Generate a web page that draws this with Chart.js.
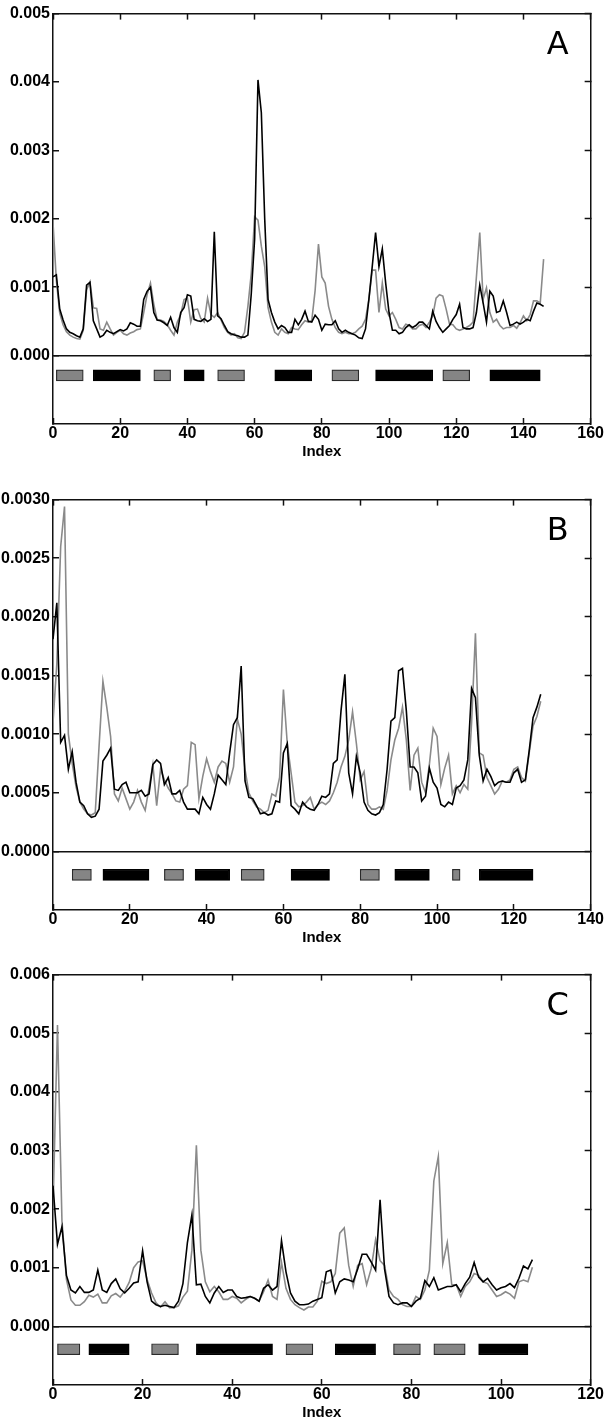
<!DOCTYPE html>
<html>
<head>
<meta charset="utf-8">
<script src="https://cdn.jsdelivr.net/npm/chart.js@4.4.0/dist/chart.umd.min.js"></script>
<style>
    html, body { margin: 0; padding: 0; background: #fff; }
    body { position: relative; width: 610px; height: 1419px; overflow: hidden; }
    canvas { position: absolute; left: 0; }
</style>
</head>
<body>
<canvas id="chartA" width="610" height="479" style="top:-5px"></canvas>
<canvas id="chartB" width="610" height="479" style="top:481px"></canvas>
<canvas id="chartC" width="610" height="479" style="top:956px"></canvas>
<script>
/* Three stacked profiles (A, B, C) with secondary-structure boxes under the zero line */

// Panel A
var blackA = [0.00115,0.00118,0.00068,0.00052,0.00039,0.00034,0.00032,0.00029,0.00027,0.00039,
    0.00103,0.00107,0.00051,0.00039,0.00027,0.00030,0.00037,0.00034,0.00032,0.00035,
    0.00038,0.00036,0.00039,0.00048,0.00046,0.00043,0.00043,0.00082,0.00094,0.00100,
    0.00063,0.00052,0.00051,0.00048,0.00044,0.00056,0.00041,0.00034,0.00063,0.00070,
    0.00089,0.00087,0.00053,0.00051,0.00050,0.00054,0.00050,0.00053,0.00181,0.00058,
    0.00054,0.00044,0.00035,0.00032,0.00030,0.00029,0.00027,0.00027,0.00030,0.00090,
    0.00170,0.00403,0.00355,0.00200,0.00082,0.00063,0.00049,0.00039,0.00044,0.00041,
    0.00034,0.00034,0.00053,0.00045,0.00053,0.00065,0.00050,0.00049,0.00059,0.00053,
    0.00037,0.00046,0.00045,0.00045,0.00051,0.00039,0.00034,0.00037,0.00034,0.00032,
    0.00030,0.00026,0.00025,0.00039,0.00082,0.00130,0.00180,0.00130,0.00156,0.00106,
    0.00063,0.00037,0.00037,0.00032,0.00034,0.00041,0.00045,0.00041,0.00044,0.00049,
    0.00049,0.00044,0.00039,0.00065,0.00050,0.00041,0.00034,0.00039,0.00044,0.00053,
    0.00060,0.00075,0.00041,0.00039,0.00039,0.00041,0.00063,0.00103,0.00077,0.00049,
    0.00094,0.00087,0.00063,0.00065,0.00080,0.00063,0.00044,0.00046,0.00049,0.00046,
    0.00049,0.00053,0.00051,0.00065,0.00077,0.00075,0.00072];
var grayA = [0.00194,0.00110,0.00062,0.00045,0.00035,0.00030,0.00027,0.00025,0.00024,0.00037,
    0.00096,0.00108,0.00070,0.00069,0.00039,0.00037,0.00049,0.00039,0.00030,0.00034,
    0.00037,0.00032,0.00030,0.00033,0.00035,0.00038,0.00039,0.00063,0.00089,0.00106,
    0.00075,0.00052,0.00052,0.00050,0.00045,0.00037,0.00030,0.00049,0.00060,0.00082,
    0.00084,0.00049,0.00067,0.00068,0.00054,0.00049,0.00084,0.00060,0.00056,0.00063,
    0.00052,0.00041,0.00034,0.00030,0.00032,0.00026,0.00025,0.00034,0.00072,0.00120,
    0.00203,0.00198,0.00160,0.00130,0.00070,0.00049,0.00034,0.00030,0.00039,0.00034,
    0.00032,0.00041,0.00039,0.00038,0.00045,0.00051,0.00049,0.00051,0.00095,0.00163,
    0.00115,0.00106,0.00072,0.00053,0.00041,0.00034,0.00032,0.00034,0.00032,0.00032,
    0.00034,0.00039,0.00043,0.00053,0.00082,0.00125,0.00125,0.00063,0.00106,0.00068,
    0.00058,0.00063,0.00053,0.00041,0.00039,0.00046,0.00044,0.00039,0.00039,0.00044,
    0.00046,0.00041,0.00049,0.00058,0.00084,0.00089,0.00087,0.00068,0.00046,0.00045,
    0.00039,0.00037,0.00039,0.00041,0.00044,0.00049,0.00115,0.00180,0.00082,0.00099,
    0.00063,0.00049,0.00053,0.00044,0.00039,0.00041,0.00041,0.00044,0.00040,0.00048,
    0.00058,0.00051,0.00060,0.00080,0.00080,0.00077,0.00141];
var helixA = [[1, 9], [30, 35], [49, 57], [83, 91], [116, 124]];
var strandA = [[12, 26], [39, 45], [66, 77], [96, 113], [130, 145]];

// Panel B
var blackB = [0.00181,0.00212,0.00093,0.00099,0.00070,0.00085,0.00059,0.00042,0.00039,0.00032,
    0.00029,0.00030,0.00036,0.00077,0.00082,0.00088,0.00053,0.00052,0.00057,0.00059,
    0.00050,0.00050,0.00050,0.00052,0.00047,0.00049,0.00074,0.00078,0.00075,0.00057,
    0.00063,0.00049,0.00049,0.00052,0.00042,0.00036,0.00036,0.00036,0.00032,0.00046,
    0.00040,0.00036,0.00049,0.00065,0.00061,0.00057,0.00084,0.00108,0.00114,0.00158,
    0.00060,0.00046,0.00045,0.00039,0.00032,0.00033,0.00031,0.00032,0.00043,0.00042,
    0.00084,0.00092,0.00039,0.00036,0.00032,0.00042,0.00038,0.00036,0.00035,0.00040,
    0.00047,0.00046,0.00049,0.00075,0.00078,0.00120,0.00151,0.00067,0.00049,0.00081,
    0.00067,0.00042,0.00035,0.00032,0.00031,0.00033,0.00040,0.00070,0.00111,0.00114,
    0.00154,0.00156,0.00120,0.00072,0.00072,0.00067,0.00043,0.00047,0.00071,0.00059,
    0.00054,0.00040,0.00038,0.00042,0.00040,0.00054,0.00056,0.00061,0.00078,0.00139,
    0.00131,0.00082,0.00060,0.00070,0.00064,0.00056,0.00059,0.00060,0.00059,0.00059,
    0.00067,0.00070,0.00059,0.00061,0.00086,0.00114,0.00123,0.00134];
var grayB = [0.00110,0.00160,0.00260,0.00294,0.00100,0.00075,0.00055,0.00042,0.00036,0.00032,
    0.00031,0.00033,0.00090,0.00145,0.00123,0.00098,0.00049,0.00043,0.00054,0.00045,
    0.00036,0.00042,0.00052,0.00042,0.00035,0.00054,0.00074,0.00039,0.00070,0.00061,
    0.00054,0.00049,0.00043,0.00042,0.00053,0.00056,0.00093,0.00091,0.00045,0.00064,
    0.00079,0.00068,0.00059,0.00072,0.00077,0.00075,0.00059,0.00072,0.00113,0.00100,
    0.00070,0.00050,0.00043,0.00038,0.00036,0.00033,0.00035,0.00049,0.00047,0.00063,
    0.00138,0.00092,0.00067,0.00042,0.00038,0.00039,0.00042,0.00046,0.00036,0.00040,
    0.00042,0.00040,0.00043,0.00050,0.00059,0.00072,0.00081,0.00095,0.00119,0.00092,
    0.00061,0.00068,0.00040,0.00036,0.00036,0.00038,0.00036,0.00052,0.00078,0.00095,
    0.00105,0.00123,0.00095,0.00052,0.00082,0.00088,0.00059,0.00050,0.00074,0.00105,
    0.00098,0.00057,0.00071,0.00082,0.00049,0.00056,0.00050,0.00057,0.00053,0.00110,
    0.00186,0.00084,0.00082,0.00063,0.00056,0.00049,0.00053,0.00060,0.00059,0.00061,
    0.00070,0.00072,0.00063,0.00060,0.00084,0.00107,0.00115,0.00128];
var helixB = [[5, 10], [29, 34], [49, 55], [80, 85], [104, 106]];
var strandB = [[13, 25], [37, 46], [62, 72], [89, 98], [111, 125]];

// Panel C
var blackC = [0.00240,0.00140,0.00170,0.00087,0.00062,0.00057,0.00068,0.00058,0.00058,0.00062,
    0.00096,0.00062,0.00058,0.00073,0.00081,0.00064,0.00057,0.00065,0.00074,0.00076,
    0.00129,0.00076,0.00043,0.00037,0.00034,0.00036,0.00034,0.00032,0.00043,0.00073,
    0.00143,0.00190,0.00071,0.00072,0.00051,0.00040,0.00057,0.00068,0.00058,0.00062,
    0.00062,0.00051,0.00048,0.00049,0.00051,0.00048,0.00043,0.00065,0.00071,0.00062,
    0.00068,0.00146,0.00093,0.00057,0.00043,0.00037,0.00037,0.00038,0.00043,0.00046,
    0.00049,0.00093,0.00096,0.00057,0.00076,0.00081,0.00079,0.00076,0.00098,0.00123,
    0.00123,0.00110,0.00096,0.00216,0.00098,0.00051,0.00040,0.00037,0.00040,0.00040,
    0.00034,0.00043,0.00048,0.00078,0.00068,0.00083,0.00062,0.00065,0.00068,0.00068,
    0.00071,0.00059,0.00073,0.00084,0.00109,0.00084,0.00076,0.00082,0.00071,0.00062,
    0.00066,0.00068,0.00073,0.00066,0.00082,0.00103,0.00098,0.00114];
var grayC = [0.00200,0.00514,0.00180,0.00080,0.00045,0.00036,0.00036,0.00042,0.00053,0.00050,
    0.00055,0.00040,0.00040,0.00052,0.00056,0.00050,0.00060,0.00075,0.00100,0.00110,
    0.00112,0.00080,0.00057,0.00040,0.00033,0.00042,0.00032,0.00032,0.00035,0.00050,
    0.00060,0.00130,0.00309,0.00130,0.00076,0.00059,0.00068,0.00059,0.00046,0.00046,
    0.00051,0.00048,0.00040,0.00046,0.00051,0.00048,0.00043,0.00059,0.00079,0.00051,
    0.00046,0.00109,0.00065,0.00046,0.00037,0.00032,0.00028,0.00033,0.00033,0.00043,
    0.00077,0.00073,0.00076,0.00090,0.00159,0.00168,0.00104,0.00068,0.00104,0.00107,
    0.00071,0.00098,0.00148,0.00112,0.00104,0.00062,0.00051,0.00046,0.00037,0.00034,
    0.00034,0.00051,0.00046,0.00062,0.00096,0.00248,0.00290,0.00107,0.00143,0.00071,
    0.00071,0.00051,0.00068,0.00076,0.00090,0.00087,0.00076,0.00073,0.00062,0.00051,
    0.00054,0.00059,0.00055,0.00048,0.00076,0.00079,0.00076,0.00101];
var helixC = [[1, 6], [22, 28], [52, 58], [76, 82], [85, 92]];
var strandC = [[8, 17], [32, 49], [63, 72], [95, 106]];

(function () {
    'use strict';

    var INK = '#111';
    var GREY = '#8a8a8a';
    var tickFont = { family: '"Liberation Sans", Arial, sans-serif', size: 16, weight: 'bold' };

    function series(values) {
        return values.map(function (v, i) { return { x: i, y: v }; });
    }
    function boxes(spans, y) {
        return spans.map(function (s) { return { x: s, y: y }; });
    }
    // only label/mark the non-negative part of the value axis
    function keepPositive(scale) {
        scale.ticks = scale.ticks.filter(function (t) { return t.value > -1e-12; });
    }

    var panelLetter = {
        id: 'panelLetter',
        afterDraw: function (chart, args, opts) {
            var a = chart.chartArea, ctx = chart.ctx;
            ctx.save();
            ctx.font = '32px "DejaVu Sans", sans-serif';
            ctx.fillStyle = '#000';
            ctx.textAlign = 'center';
            ctx.textBaseline = 'middle';
            ctx.fillText(opts.text, a.right - 33, a.top + 32);
            ctx.restore();
        }
    };

    function panel(id, p) {
        var frame = { color: INK, width: 1.5 };
        // ticks point into the plot; offset off so the bar datasets don't pad the axes
        var inward = { drawOnChartArea: false, offset: false, tickLength: -6, tickColor: INK, tickWidth: 1.5 };

        return new Chart(document.getElementById(id), {
            type: 'line',
            data: {
                datasets: [
                    { data: series(p.black), borderColor: '#000', borderWidth: 1.6 },
                    { data: series(p.gray), borderColor: GREY, borderWidth: 1.6 },
                    { type: 'bar', indexAxis: 'y', data: boxes(p.helix, p.boxY),
                      backgroundColor: '#858585', borderColor: '#2a2a2a', borderWidth: 1.2,
                      borderSkipped: false, barThickness: 11, grouped: false },
                    { type: 'bar', indexAxis: 'y', data: boxes(p.strand, p.boxY),
                      backgroundColor: '#000', borderColor: '#000', borderWidth: 1.2,
                      borderSkipped: false, barThickness: 11, grouped: false }
                ]
            },
            options: {
                responsive: false,
                animation: false,
                layout: { padding: { top: 10, right: 15, left: 0, bottom: 0 } },
                elements: { point: { radius: 0 }, line: { tension: 0, fill: false } },
                plugins: { legend: { display: false }, tooltip: { enabled: false }, panelLetter: { text: p.letter } },
                scales: {
                    x: {
                        type: 'linear', position: 'bottom', min: 0, max: p.xMax, offset: false,
                        ticks: { stepSize: 20, padding: 6, color: '#000', font: tickFont },
                        grid: inward, border: frame,
                        title: { display: true, text: 'Index', color: '#000', padding: { top: 0, bottom: 13 },
                                 font: { family: tickFont.family, size: 15, weight: 'bold' } },
                        afterFit: function (s) { s.height = 50; }
                    },
                    x2: {
                        type: 'linear', position: 'top', min: 0, max: p.xMax, offset: false,
                        ticks: { stepSize: 20, display: false },
                        grid: inward, border: frame,
                        afterFit: function (s) { s.height = 0; }
                    },
                    y: {
                        type: 'linear', position: 'left', min: p.yMin, max: p.yMax, offset: false,
                        ticks: {
                            stepSize: p.yStep, padding: 9, color: '#000', font: tickFont,
                            callback: function (v) { return v.toFixed(p.digits); }
                        },
                        grid: {
                            drawOnChartArea: true, offset: false, tickLength: -6, tickColor: INK,
                            tickWidth: 1.5, lineWidth: 1.5,
                            color: function (c) {
                                return c.tick && Math.abs(c.tick.value) < 1e-12 ? INK : 'rgba(0,0,0,0)';
                            }
                        },
                        border: frame,
                        afterBuildTicks: keepPositive,
                        afterFit: function (s) { s.width = 53; }
                    },
                    y2: {
                        type: 'linear', position: 'right', min: p.yMin, max: p.yMax, offset: false,
                        ticks: { stepSize: p.yStep, display: false },
                        grid: inward, border: frame,
                        afterBuildTicks: keepPositive,
                        afterFit: function (s) { s.width = 0; }
                    }
                }
            },
            plugins: [panelLetter]
        });
    }

    panel('chartA', { letter: 'A', black: blackA, gray: grayA, helix: helixA, strand: strandA,
        boxY: -0.00029, xMax: 160, yMin: -0.001, yMax: 0.005, yStep: 0.001, digits: 3 });
    panel('chartB', { letter: 'B', black: blackB, gray: grayB, helix: helixB, strand: strandB,
        boxY: -0.0002, xMax: 140, yMin: -0.0005, yMax: 0.003, yStep: 0.0005, digits: 4 });
    panel('chartC', { letter: 'C', black: blackC, gray: grayC, helix: helixC, strand: strandC,
        boxY: -0.00039, xMax: 120, yMin: -0.001, yMax: 0.006, yStep: 0.001, digits: 3 });
})();
</script>
</body>
</html>
